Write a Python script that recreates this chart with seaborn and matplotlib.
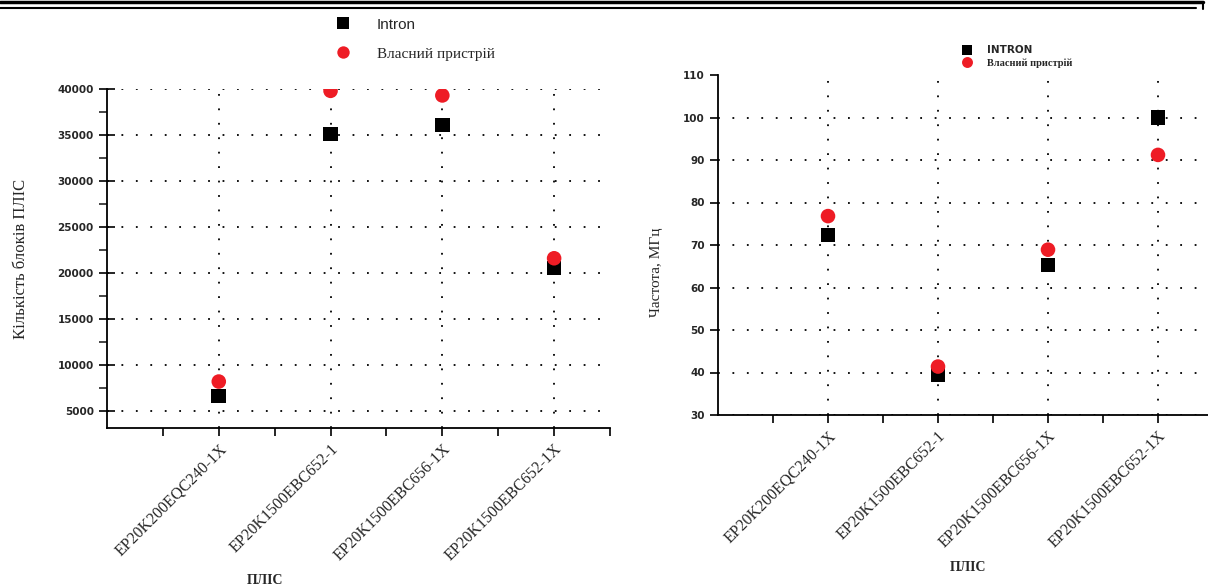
import numpy as np
import pandas as pd
import matplotlib
matplotlib.use("Agg")
import matplotlib.pyplot as plt
from matplotlib.lines import Line2D
from matplotlib.ticker import MultipleLocator, FixedLocator
import seaborn as sns

# data
chips_left = ["EP20K200EQC240-1X", "EP20K1500EBC652-1",
              "EP20K1500EBC656-1X", "EP20K1500EBC652-1X"]
chips_right = ["EP20K200EQC240-1X", "EP20K1500EBC652-1",
               "EP20K1500EBC656-1X", "EP20K1500EBC652-1X"]
blocks_intron = [6650, 35100, 36100, 20550]
blocks_own = [8200, 39800, 39300, 21600]
freq_intron = [72.4, 39.5, 65.3, 100.0]
freq_own = [76.8, 41.4, 68.9, 91.2]
yticks_left = [5000, 10000, 15000, 20000, 25000, 30000, 35000, 40000]
yticks_right = [30, 40, 50, 60, 70, 80, 90, 100, 110]

sns.set_style("white")
plt.rcParams['font.family'] = ['Liberation Serif', 'DejaVu Serif']

fig = plt.figure(figsize=(12.08, 5.85), dpi=100)
ax1 = fig.add_axes([107/1208, 1-428/585, 503/1208, 339/585])
ax2 = fig.add_axes([718/1208, 1-415/585, 490/1208, 340/585])

def long_df(chips, a, b, names):
    return pd.DataFrame({
        "chip": chips * 2,
        "val": a + b,
        "src": [names[0]] * len(chips) + [names[1]] * len(chips),
    })

df1 = long_df(chips_left, blocks_intron, blocks_own, ["Intron", "Власний пристрій"])
df2 = long_df(chips_right, freq_intron, freq_own, ["INTRON", "Власний пристрій"])

grid_kw = dict(color="black", linestyle=(0, (1, 7)), linewidth=1.3, zorder=0)

for ax, df, names in [(ax1, df1, ["Intron", "Власний пристрій"]),
                      (ax2, df2, ["INTRON", "Власний пристрій"])]:
    sns.scatterplot(data=df, x="chip", y="val", hue="src", style="src",
                    palette={names[0]: "black", names[1]: "#ee1c25"},
                    markers={names[0]: "s", names[1]: "o"},
                    s=110, linewidth=0, ax=ax, legend=True, zorder=3)
    for sp in ["top", "right"]:
        ax.spines[sp].set_visible(False)
    for sp in ["left", "bottom"]:
        ax.spines[sp].set_linewidth(1.3)
        ax.spines[sp].set_color("black")
    ax.set_xlabel("ПЛІС", fontsize=10, fontweight="bold")
    ax.xaxis.set_minor_locator(FixedLocator([-0.5, 0.5, 1.5, 2.5, 3.5]))
    ax.tick_params(axis="x", which="both", direction="out", length=6, width=1.2,
                   bottom=True, color="black")
    ax.tick_params(axis="y", which="major", direction="inout", length=12, width=1.2,
                   left=True, color="black")
    plt.setp(ax.get_xticklabels(), rotation=45, ha="right", rotation_mode="anchor",
             fontsize=11.5)
    ax.grid(True, which="major", **grid_kw)

ax1.set_xlim(-1, 3.5)
ax1.set_ylim(3150, 40000)
ax1.set_yticks(yticks_left)
ax1.yaxis.set_minor_locator(MultipleLocator(2500))
ax1.tick_params(axis="y", which="minor", direction="out", length=6, width=1.2, left=True)
ax1.set_ylabel("Кількість блоків ПЛІС", fontsize=12)
ax1.yaxis.set_label_coords(-0.155, 0.5)
ax1.xaxis.set_label_coords(0.315, -0.43)

ax2.set_xlim(-1, (1208 - 718) / 110 - 1)
ax2.set_ylim(30, 110)
ax2.set_yticks(yticks_right)
ax2.tick_params(axis="y", which="major", direction="out", length=6)
ax2.set_ylabel("Частота, МГц", fontsize=11)
ax2.yaxis.set_label_coords(-0.113, 0.42)
ax2.xaxis.set_label_coords(0.51, -0.43)
# no dotted rule along the top value of the right panel
ax2.yaxis.get_gridlines()[-1].set_visible(False)

for ax in (ax1, ax2):
    for lab in ax.get_yticklabels():
        lab.set_family("DejaVu Sans")
        lab.set_fontweight("bold")
        lab.set_fontsize(7.5)

# legends
h1, l1 = ax1.get_legend_handles_labels()
ax1.legend_.remove()
leg1 = fig.legend(h1, l1, loc="upper left", bbox_to_anchor=(314/1208, 1-4/585),
                  frameon=False, fontsize=11, labelspacing=1.0, handletextpad=1.2,
                  markerscale=0.85)
leg1.get_texts()[0].set_family("Liberation Sans")

h2, l2 = ax2.get_legend_handles_labels()
ax2.legend_.remove()
leg2 = fig.legend(h2, l2, loc="upper left", bbox_to_anchor=(947/1208, 1-36/585),
                  frameon=False, fontsize=7.5, labelspacing=0.3, handletextpad=0.9,
                  markerscale=0.75)
for t in leg2.get_texts():
    t.set_fontweight("bold")
leg2.get_texts()[0].set_family("DejaVu Sans")

# page header rule
fig.add_artist(Line2D([0, 1203/1208], [1-2/585, 1-2/585], color="black", lw=2.5))
fig.add_artist(Line2D([0, 1196/1208], [1-8/585, 1-8/585], color="black", lw=1.5))
fig.add_artist(Line2D([1203/1208, 1203/1208], [1-2/585, 1-9/585], color="black", lw=1.5))

fig.savefig("out.png", dpi=100)
